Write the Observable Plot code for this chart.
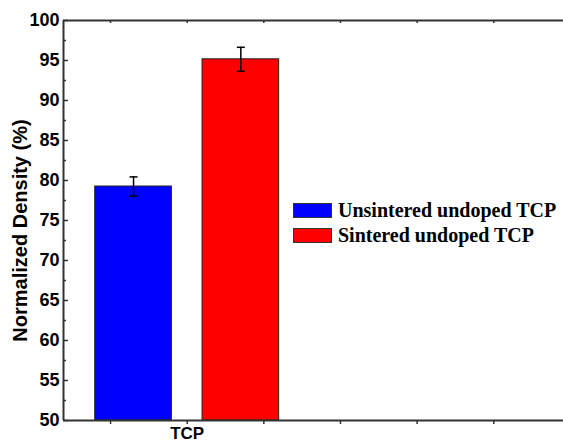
<!DOCTYPE html>
<html>
<head>
<meta charset="utf-8">
<script src="https://cdn.jsdelivr.net/npm/d3@7"></script>
<script src="https://cdn.jsdelivr.net/npm/@observablehq/plot@0.6"></script>
<style>
  html, body { margin: 0; padding: 0; background: #fff; }
  #wrap { position: relative; width: 563px; height: 442px; overflow: hidden; }
  #chart svg text, #chart svg g[aria-label$="axis tick label"] { font-weight: bold !important; font-family: 'Liberation Sans', Arial, sans-serif !important; }
  #legend { position: absolute; left: 293px; top: 198px; font-family: "Liberation Serif", "Times New Roman", serif; font-weight: bold; font-size: 20px; color: #000; }
  .row { display: flex; align-items: center; height: 25px; }
  .sw { width: 37px; height: 13px; border: 1px solid #333; margin-right: 6px; }
</style>
</head>
<body>
<div id="wrap">
  <div id="chart"></div>
  <div id="legend"></div>
</div>
<script>
// ---- data ----
const groups = ["TCP"];
const seriesNames = ["Unsintered undoped TCP", "Sintered undoped TCP"];
const seriesColors = ["#0000ff", "#ff0000"];
const values = [79.25, 95.15];      // normalized density (%)
const errors = [1.2, 1.5];          // error bar half-widths
const yTickValues = [50, 55, 60, 65, 70, 75, 80, 85, 90, 95, 100];
const yMinorTickValues = [52.5, 57.5, 62.5, 67.5, 72.5, 77.5, 82.5, 87.5, 92.5, 97.5];
const xTickValues = [0.5, 1, 1.5, 2, 2.5, 3, 3.5];
const yLabel = "Normalized Density (%)";

// ---- layout ----
const W = 563, H = 442;
const mL = 63, mR = 0, mT = 20, mB = 22;
const xDomain = [0.193, 3.455];
const yDomain = [50, 100];
const pxPerX = (W - mL - mR) / (xDomain[1] - xDomain[0]);
const pxPerY = (H - mT - mB) / (yDomain[1] - yDomain[0]);
const offsets = [-0.35, 0.35];
const barHalf = 0.25;
const capHalf = 4 / pxPerX;

const rows = [];
groups.forEach((g, gi) => {
  seriesNames.forEach((s, si) => {
    const c = gi + 1 + offsets[si];
    rows.push({group: g, series: s, color: seriesColors[si], value: values[si], err: errors[si], cx: c});
  });
});

const axisColor = "#333";
const font = "'Liberation Sans', Arial, sans-serif";

const chart = Plot.plot({
  width: W, height: H,
  marginLeft: mL, marginRight: mR, marginTop: mT, marginBottom: mB,
  style: {fontFamily: font, fontWeight: "bold", background: "transparent", overflow: "visible"},
  x: {type: "linear", domain: xDomain, axis: null},
  y: {domain: yDomain, axis: null},
  marks: [
    Plot.rect(rows, {
      x1: d => d.cx - barHalf, x2: d => d.cx + barHalf,
      y1: yDomain[0], y2: "value",
      fill: "color", stroke: "#222", strokeWidth: 1
    }),
    Plot.ruleX(rows, {x: "cx", y1: d => d.value - d.err, y2: d => d.value + d.err, stroke: "#000", strokeWidth: 1.5}),
    Plot.link(rows, {x1: d => d.cx - capHalf, x2: d => d.cx + capHalf, y1: d => d.value + d.err, y2: d => d.value + d.err, stroke: "#000", strokeWidth: 1.5}),
    Plot.link(rows, {x1: d => d.cx - capHalf, x2: d => d.cx + capHalf, y1: d => d.value - d.err, y2: d => d.value - d.err, stroke: "#000", strokeWidth: 1.5}),
    // frame
    Plot.ruleY([yDomain[0]], {stroke: axisColor, strokeWidth: 2}),
    Plot.ruleY([yDomain[1]], {stroke: axisColor, strokeWidth: 2}),
    Plot.ruleX([xDomain[0]], {stroke: axisColor, strokeWidth: 2}),
    // y ticks (inward)
    Plot.ruleY(yTickValues, {x1: xDomain[0], x2: xDomain[0] + 5 / pxPerX, stroke: axisColor, strokeWidth: 1.5}),
    Plot.ruleY(yMinorTickValues, {x1: xDomain[0], x2: xDomain[0] + 3 / pxPerX, stroke: axisColor, strokeWidth: 1.5}),
    // top ticks (inward)
    Plot.ruleX(xTickValues, {y1: yDomain[1], y2: yDomain[1] - 3 / pxPerY, stroke: axisColor, strokeWidth: 1.5}),
    Plot.text(yTickValues, {
      x: xDomain[0], y: d => d, text: d => String(d), dx: -4, textAnchor: "end",
      fontSize: 18, fontWeight: "bold", fill: "#000"
    }),
    Plot.axisX({
      ticks: xTickValues, tickSize: 4, tickPadding: 2, label: null,
      tickFormat: d => (Number.isInteger(d) && groups[d - 1]) ? groups[d - 1] : "",
      fontSize: 17, fontWeight: "bold", fill: "#000", stroke: axisColor, strokeWidth: 1.5
    }),
    Plot.text([yLabel], {
      frameAnchor: "left", rotate: -90, dx: -43, dy: 10, textAnchor: "middle",
      fontSize: 20, fontWeight: "bold", fill: "#000", text: d => d
    })
  ]
});
document.getElementById("chart").appendChild(chart);

const legend = document.getElementById("legend");
seriesNames.forEach((s, i) => {
  const row = document.createElement("div");
  row.className = "row";
  const sw = document.createElement("div");
  sw.className = "sw";
  sw.style.background = seriesColors[i];
  const t = document.createElement("span");
  t.textContent = s;
  row.appendChild(sw);
  row.appendChild(t);
  legend.appendChild(row);
});
</script>
</body>
</html>
